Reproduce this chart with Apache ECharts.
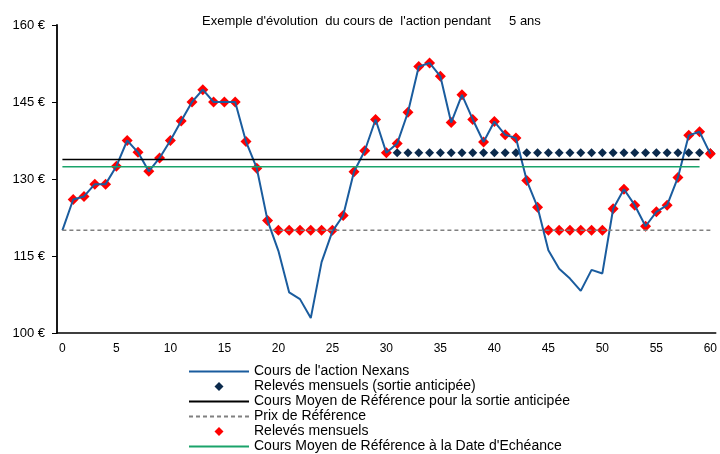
<!DOCTYPE html>
<html>
<head>
<meta charset="utf-8">
<script src="https://cdn.jsdelivr.net/npm/echarts@6/dist/echarts.min.js"></script>
<style>
    html, body { margin: 0; padding: 0; background: #fff; }
    #chart { width: 720px; height: 454px; }
</style>
</head>
<body>
<div id="chart"></div>
<script>
// mois 0..60
var months = [];
for (var i = 0; i <= 60; i++) {
    months.push(String(i));
}

// cours de l'action (courbe bleue)
var cours = [
    120.0, 126.0, 126.6, 129.0, 129.0, 132.5, 137.5, 135.2, 131.5, 134.1,
    137.5, 141.3, 145.0, 147.4, 145.0, 145.0, 145.0, 137.3, 132.1, 121.9,
    116.0, 107.9, 106.6, 102.9, 113.8, 119.8, 122.9, 131.4, 135.5, 141.6,
    135.1, 136.9, 143.0, 151.9, 152.6, 150.0, 141.0, 146.4, 141.6, 137.2,
    141.2, 138.6, 138.0, 129.7, 124.5, 116.1, 112.5, 110.6, 108.2, 112.3,
    111.6, 124.2, 128.0, 124.9, 120.8, 123.6, 124.9, 130.3, 138.5, 139.2,
    134.9
];

// relevés mensuels (points rouges), pas de relevé au mois 0
var releves = [
    null, 126.0, 126.6, 129.0, 129.0, 132.5, 137.5, 135.2, 131.5, 134.1,
    137.5, 141.3, 145.0, 147.4, 145.0, 145.0, 145.0, 137.3, 132.1, 121.9,
    120.0, 120.0, 120.0, 120.0, 120.0, 120.0, 122.9, 131.4, 135.5, 141.6,
    135.1, 136.9, 143.0, 151.9, 152.6, 150.0, 141.0, 146.4, 141.6, 137.2,
    141.2, 138.6, 138.0, 129.7, 124.5, 120.0, 120.0, 120.0, 120.0, 120.0,
    120.0, 124.2, 128.0, 124.9, 120.8, 123.6, 124.9, 130.3, 138.5, 139.2,
    134.9
];

// relevés mensuels après la sortie anticipée (losanges bleu foncé)
var sortieDebut = 31;
var sortieValeur = 135.1;

// niveaux de référence
var coursMoyenSortie = 133.8;
var prixReference = 120;
var coursMoyenEcheance = 132.4;
var yTicks = [100, 115, 130, 145, 160];

var sortie = months.map(function (m, idx) {
    return idx >= sortieDebut ? sortieValeur : null;
});

var chart = echarts.init(document.getElementById('chart'));

var FONT = '"Liberation Sans", Arial, sans-serif';

// pas de symbole dans la légende pour les courbes
var noSymbol = {opacity: 0};
// losange carré dans la légende
var diamondIcon = 'path://M0,-1L1,0L0,1L-1,0Z';

var option = {
    animation: false,
    backgroundColor: '#fff',
    textStyle: {fontFamily: FONT},
    title: {
        text: 'Exemple d\'évolution  du cours de  l\'action pendant     5 ans',
        left: 197,
        top: 10,
        textStyle: {fontFamily: FONT, fontSize: 13, fontWeight: 'normal', color: '#000'}
    },
    legend: {
        orient: 'vertical',
        left: 188,
        top: 364,
        padding: 0,
        itemWidth: 60,
        itemHeight: 9,
        itemGap: 0,
        symbolKeepAspect: true,
        textStyle: {fontFamily: FONT, fontSize: 14, lineHeight: 15, color: '#000'},
        data: [
            {name: 'Cours de l\'action Nexans', itemStyle: noSymbol},
            {name: 'Relevés mensuels (sortie anticipée)', icon: diamondIcon},
            {name: 'Cours Moyen de Référence pour la sortie anticipée', itemStyle: noSymbol},
            {name: 'Prix de Référence', itemStyle: noSymbol},
            {name: 'Relevés mensuels', icon: diamondIcon},
            {name: 'Cours Moyen de Référence à la Date d\'Echéance', itemStyle: noSymbol}
        ]
    },
    grid: {left: 57, right: 2, top: 25, bottom: 121},
    xAxis: {
        type: 'category',
        data: months,
        boundaryGap: true,
        axisLine: {lineStyle: {color: '#000', width: 1.5}},
        axisTick: {interval: 4, length: 5, lineStyle: {color: '#000'}},
        axisLabel: {interval: 4, color: '#000', fontSize: 12, margin: 10}
    },
    yAxis: {
        type: 'value',
        min: yTicks[0],
        max: yTicks[yTicks.length - 1],
        interval: 15,
        splitLine: {show: false},
        axisLine: {show: true, lineStyle: {color: '#000', width: 1.8}},
        axisTick: {show: true, length: 5, lineStyle: {color: '#000'}},
        axisLabel: {
            color: '#000',
            fontSize: 13,
            margin: 12,
            formatter: function (v) {
                return v + ' €';
            }
        }
    },
    series: [
        {
            name: 'Cours de l\'action Nexans',
            type: 'line',
            data: cours,
            symbol: 'none',
            lineStyle: {color: '#1a5c9e', width: 2},
            itemStyle: {color: '#1a5c9e'}
        },
        {
            name: 'Relevés mensuels (sortie anticipée)',
            type: 'scatter',
            data: sortie,
            symbol: 'diamond',
            symbolSize: 9,
            itemStyle: {color: '#0b2a4c', opacity: 1}
        },
        {
            name: 'Cours Moyen de Référence pour la sortie anticipée',
            type: 'line',
            data: [['0', coursMoyenSortie], ['59', coursMoyenSortie]],
            symbol: 'none',
            lineStyle: {color: '#000', width: 1.5},
            itemStyle: {color: '#000'}
        },
        {
            name: 'Prix de Référence',
            type: 'line',
            data: [['0', prixReference], ['60', prixReference]],
            symbol: 'none',
            lineStyle: {color: '#808080', width: 1.5, type: [4, 3]},
            itemStyle: {color: '#808080'}
        },
        {
            name: 'Relevés mensuels',
            type: 'scatter',
            data: releves,
            symbol: 'diamond',
            symbolSize: 11,
            itemStyle: {color: '#ff0000', opacity: 1}
        },
        {
            name: 'Cours Moyen de Référence à la Date d\'Echéance',
            type: 'line',
            data: [['0', coursMoyenEcheance], ['59', coursMoyenEcheance]],
            symbol: 'none',
            lineStyle: {color: '#1aa36a', width: 1.5},
            itemStyle: {color: '#1aa36a'}
        }
    ]
};

chart.setOption(option);
</script>
</body>
</html>
